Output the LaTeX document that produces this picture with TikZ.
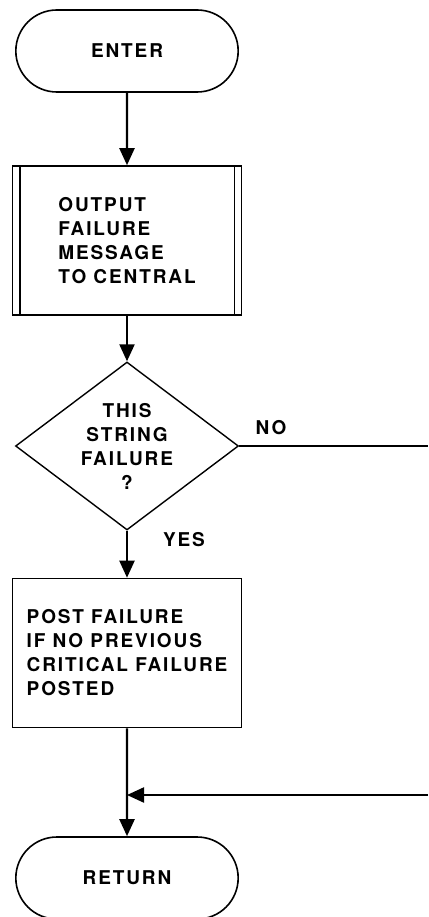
\documentclass[tikz,border=0pt]{standalone}
\usepackage{fontspec}
\newfontfamily\chartfont{TeX Gyre Heros}[LetterSpace=10]
\usetikzlibrary{arrows.meta,shapes.geometric,shapes.misc}

\tikzset{
    chart/.style={font=\chartfont\bfseries\fontsize{19}{24}\selectfont},
    terminal/.style={chart, draw, line width=1.6pt, rounded rectangle,
        minimum width=229pt, minimum height=82pt},
    procbox/.style={chart, draw, line width=1.6pt, rectangle, align=left,
        minimum width=229pt, minimum height=149pt},
    decision/.style={chart, draw, line width=1.4pt, diamond, align=center,
        inner sep=0pt, shape aspect=1.33, minimum width=223pt, minimum height=168pt},
    flow/.style={line width=2.2pt, -{Triangle[length=17pt,width=15pt]}},
    wire/.style={line width=2.2pt}
}

\begin{document}
\begin{tikzpicture}[x=1pt, y=1pt]

    % 0. 画布大小
    \useasboundingbox (0,0) rectangle (428,-917);

    % 1. 入口
    \node (enter) at (127,-51) [terminal] {ENTER};

    % 2. 子程序框（两侧双竖线）
    \node (output) at (127,-240.5) [procbox] {OUTPUT\\FAILURE\\MESSAGE\\TO CENTRAL};
    \draw[line width=1.6pt] ([xshift=8pt]output.north west) -- ([xshift=8pt]output.south west);
    \draw[line width=1.6pt] ([xshift=-8pt]output.north east) -- ([xshift=-8pt]output.south east);

    % 3. 判断
    \node (test) at (127,-446) [decision] {THIS\\STRING\\FAILURE\\?};
    \node (no) at (271,-428) [chart] {NO};
    \node (yes) at (184,-540) [chart] {YES};

    % 4. 处理框
    \node (post) at (127,-653) [procbox] {POST FAILURE\\IF NO PREVIOUS\\CRITICAL FAILURE\\POSTED};

    % 5. 返回
    \node (return) at (127,-878) [terminal] {RETURN};

    % 6. 连线
    \coordinate (noout) at (428,-446);
    \coordinate (noin) at (428,-795);
    \coordinate (join) at (127,-795);

    \draw[flow] (enter) -- (output);
    \draw[flow] (output) -- (test);
    \draw[flow] (test) -- (post);
    \draw[wire] (test) -- (noout);
    \draw[flow] (post) -- (return);
    \draw[flow] (noin) -- (join);

\end{tikzpicture}
\end{document}
